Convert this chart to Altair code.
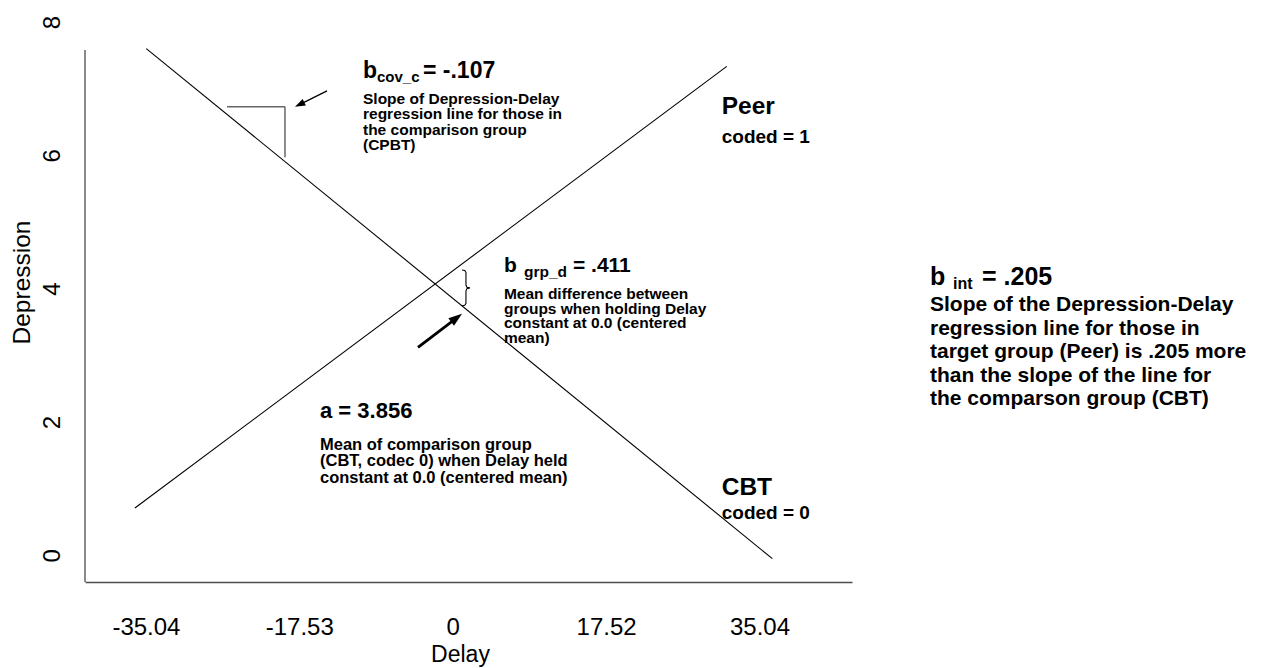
import altair as alt
import numpy as np
import pandas as pd

# Depression ~ Delay (centred) * Group, with CBT coded 0 and Peer coded 1
a_cbt = 3.856      # intercept for CBT at Delay = 0
b_cov_c = -0.107   # Delay slope for CBT
b_grp_d = 0.411    # Peer - CBT difference at Delay = 0
b_int = 0.205      # extra Delay slope for Peer

groups = ["CBT", "Peer"]
group_code = [0, 1]
delay_start = [-35.0, -36.3]
delay_end = [36.5, 31.3]

x_ticks = [-35.04, -17.53, 0, 17.52, 35.04]
y_ticks = [0, 2, 4, 6, 8]

FONT = "Liberation Sans"
X_DOMAIN = [-42.0, 45.6]
Y_DOMAIN = [-0.4, 8.3]
W, H = 767, 580
PX_X = W / (X_DOMAIN[1] - X_DOMAIN[0])
PX_Y = H / (Y_DOMAIN[1] - Y_DOMAIN[0])


def predict(code, delay):
    return a_cbt + b_grp_d * code + (b_cov_c + b_int * code) * delay


def coef(v):
    s = f"{v:.3f}"
    return s.replace("0.", ".", 1)


xs = alt.Scale(domain=X_DOMAIN, nice=False, zero=False)
ys = alt.Scale(domain=Y_DOMAIN, nice=False, zero=False)

x_axis = alt.Axis(
    values=x_ticks, labelExpr="'' + datum.value", title="Delay",
    grid=False, ticks=False, tickSize=0, domain=True,
    domainColor="#4d4d4d", domainWidth=1.3,
    labelPadding=33, labelFont=FONT, labelFontSize=24, labelColor="black",
    labelFlush=False, labelOverlap=False,
    titleFont=FONT, titleFontSize=23, titleFontWeight="normal", titleColor="black",
    titleX=375, titleY=79, titleAlign="center", titleBaseline="alphabetic",
)
y_axis = alt.Axis(
    values=y_ticks, labelExpr="'' + datum.value", title="Depression",
    grid=False, ticks=False, tickSize=0, domain=False,
    labelAngle=270, labelAlign="center", labelBaseline="middle",
    labelPadding=33, labelFont=FONT, labelFontSize=24, labelColor="black",
    labelFlush=False, labelOverlap=False,
    titleFont=FONT, titleFontSize=24.5, titleFontWeight="normal", titleColor="black",
    titleX=-63, titleY=280, titleAngle=270, titleAlign="center", titleBaseline="middle",
)


def X(field="x"):
    return alt.X(f"{field}:Q", scale=xs, axis=x_axis, title="Delay")


def Y(field="y"):
    return alt.Y(f"{field}:Q", scale=ys, axis=y_axis, title="Depression")


# ---- regression lines ----
line_rows = []
for g, c, x0, x1 in zip(groups, group_code, delay_start, delay_end):
    for x in (x0, x1):
        line_rows.append({"group": g, "x": x, "y": predict(c, x)})
lines_df = pd.DataFrame(line_rows)

lines = alt.Chart(lines_df).mark_line(color="black", strokeWidth=1.1).encode(
    x=X(), y=Y(), detail="group:N"
)

# ---- left frame line ----
frame_top = 7.58
frame_df = pd.DataFrame({"x": [X_DOMAIN[0]], "y": [Y_DOMAIN[0]], "y2": [frame_top]})
frame = alt.Chart(frame_df).mark_rule(color="#4d4d4d", strokeWidth=1.3).encode(
    x=X(), y=Y(), y2="y2:Q"
)

# ---- run/rise marker beside the CBT line ----
marker_x = [-25.78, -19.16]
marker_y = [6.727, 5.97]
marker_df = pd.DataFrame({
    "x": [marker_x[0], marker_x[1]],
    "x2": [marker_x[1], marker_x[1]],
    "y": [marker_y[0], marker_y[0]],
    "y2": [marker_y[0], marker_y[1]],
})
marker = alt.Chart(marker_df).mark_rule(color="#666666", strokeWidth=1.5).encode(
    x=X(), x2="x2:Q", y=Y(), y2="y2:Q"
)

# ---- brace between the two lines near Delay = 0 ----
brace_x = 1.06
brace_w = 0.9
brace_bottom = predict(0, brace_x)
brace_top = predict(1, brace_x) - 0.09
brace_fx = [0, 0.35, 0.5, 0.5, 0.62, 1.0, 0.62, 0.5, 0.5, 0.35, 0]
brace_fy = [1, 0.985, 0.93, 0.58, 0.52, 0.5, 0.48, 0.42, 0.07, 0.015, 0]
brace_df = pd.DataFrame({
    "k": range(len(brace_fx)),
    "x": [brace_x + f * brace_w for f in brace_fx],
    "y": [brace_bottom + f * (brace_top - brace_bottom) for f in brace_fy],
})
brace = alt.Chart(brace_df).mark_line(color="black", strokeWidth=1.1).encode(
    x=X(), y=Y(), order="k:Q"
)

# ---- arrows ----
HEAD = "M0,0L0.55,1.6L-0.55,1.6Z"
arrow_tail = [(-14.36, 6.967), (-3.97, 3.12)]
arrow_head = [(-18.02, 6.727), (brace_x, brace_bottom - 0.12)]
arrow_width = [1.3, 2.8]
arrow_scale = [6.5, 8.5]

shaft_rows, head_rows = [], []
for (tx, ty), (hx, hy), w, s in zip(arrow_tail, arrow_head, arrow_width, arrow_scale):
    dx = (hx - tx) * PX_X
    dy = -(hy - ty) * PX_Y
    n = np.hypot(dx, dy)
    ux, uy = dx / n, dy / n
    ang = float(np.degrees(np.arctan2(ux, -uy)) % 360)
    back = 1.6 * s * 0.7
    ex, ey = hx - ux * back / PX_X, hy + uy * back / PX_Y
    shaft_rows.append({"x": tx, "y": ty, "x2": ex, "y2": ey, "w": w})
    head_rows.append({"x": hx, "y": hy, "angle": ang, "size": (2 * s) ** 2})

shafts = alt.Chart(pd.DataFrame(shaft_rows)).mark_rule(color="black").encode(
    x=X(), y=Y(), x2="x2:Q", y2="y2:Q",
    strokeWidth=alt.StrokeWidth("w:Q", scale=None),
)
heads = alt.Chart(pd.DataFrame(head_rows)).mark_point(
    shape=HEAD, filled=True, color="black", opacity=1
).encode(
    x=X(), y=Y(),
    angle=alt.Angle("angle:Q", scale=None),
    size=alt.Size("size:Q", scale=None),
)

# ---- headline annotations (coefficients, group names) ----
head_text = ["b", "cov_c", "= " + coef(b_cov_c),
             "b", "grp_d", "= " + coef(b_grp_d),
             "a = " + f"{a_cbt:.3f}",
             "b", "int", "= " + coef(b_int),
             "Peer", "coded = 1", "CBT", "coded = 0"]
head_x = [-10.25, -8.65, -3.40, 5.85, 8.14, 13.73, -15.16,
          54.51, 57.14, 60.45, 30.72, 30.72, 30.72, 30.72]
head_y = [7.160, 7.100, 7.160, 4.250, 4.175, 4.250, 2.060,
          4.055, 3.995, 4.055, 6.620, 6.189, 0.905, 0.545]
head_fs = [23, 15, 23, 21, 15.5, 21, 22, 25, 16, 25, 24.5, 19, 24.5, 19]

headlines = alt.Chart(pd.DataFrame({
    "t": head_text, "x": head_x, "y": head_y, "fs": head_fs
})).mark_text(
    align="left", baseline="alphabetic", font=FONT, fontWeight="bold", color="black"
).encode(
    x=X(), y=Y(), text="t:N", size=alt.Size("fs:Q", scale=None)
)

# ---- explanatory text blocks ----
body_text = [
    "Slope of Depression-Delay\nregression line for those in\nthe comparison group\n(CPBT)",
    "Mean difference between\ngroups when holding Delay\nconstant at 0.0 (centered\nmean)",
    "Mean of comparison group\n(CBT, codec 0) when Delay held\nconstant at 0.0 (centered mean)",
    "Slope of the Depression-Delay\nregression line for those in\ntarget group (Peer) is "
    + coef(b_int) + " more\nthan the slope of the line for\nthe comparson group (CBT)",
]
body_x = [-10.25, 5.85, -15.16, 54.51]
body_y = [6.770, 3.845, 1.580, 3.665]
body_fs = [15.5, 15.5, 16.5, 21]
body_lh = [15.3, 14.5, 16.4, 23.5]

bodies = []
for t, x, y, fs, lh in zip(body_text, body_x, body_y, body_fs, body_lh):
    bodies.append(
        alt.Chart(pd.DataFrame({"t": [t], "x": [x], "y": [y]})).mark_text(
            align="left", baseline="alphabetic", font=FONT, fontWeight="bold",
            color="black", fontSize=fs, lineHeight=lh, lineBreak="\n",
        ).encode(x=X(), y=Y(), text="t:N")
    )

chart = alt.layer(
    lines, frame, marker, brace, shafts, heads, headlines, *bodies
).properties(
    width=W, height=H,
    padding={"left": 85, "top": 2, "right": 410, "bottom": 86},
    autosize=alt.AutoSizeParams(type="none"),
    background="white",
).configure_view(strokeWidth=0)

chart.save("out.html", embed_options={"renderer": "svg", "actions": False})
